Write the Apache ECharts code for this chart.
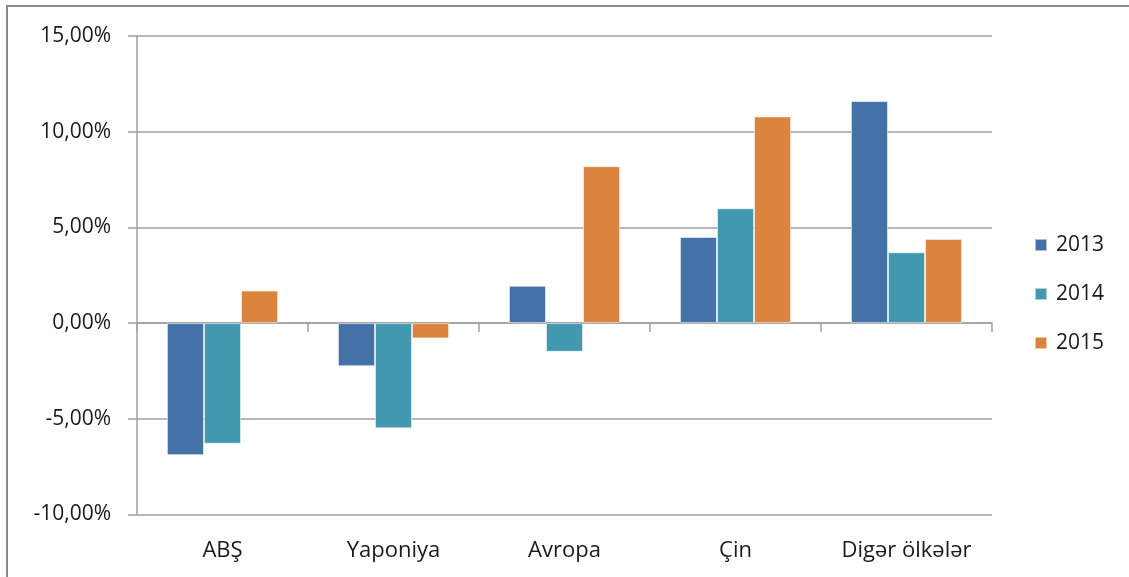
<!DOCTYPE html>
<html>
<head>
<meta charset="utf-8">
<script src="https://cdn.jsdelivr.net/npm/echarts@6/dist/echarts.min.js"></script>
<style>
html,body{margin:0;padding:0;background:#fff;}
#c{width:1129px;height:577px;}
</style>
</head>
<body>
<div id="c"></div>
<script>
var categories = ['ABŞ', 'Yaponiya', 'Avropa', 'Çin', 'Digər ölkələr'];
var seriesNames = ['2013', '2014', '2015'];
var values2013 = [-6.9, -2.25, 1.95, 4.5, 11.6];
var values2014 = [-6.3, -5.5, -1.5, 6.0, 3.7];
var values2015 = [1.7, -0.8, 8.2, 10.8, 4.4];
var yTicks = { min: -10, max: 15, interval: 5 };
var colors = ['#4472A8', '#4198AF', '#DB843D'];

var chart = echarts.init(document.getElementById('c'), null, {renderer: 'canvas'});
var font = '"Open Sans", Lato, "Noto Sans", sans-serif';
var allValues = [values2013, values2014, values2015];

chart.setOption({
  animation: false,
  color: colors,
  graphic: [{
    type: 'rect',
    shape: {x: 7, y: 6, width: 1200, height: 700},
    style: {fill: 'none', stroke: '#8a8a8a', lineWidth: 2},
    silent: true
  }],
  grid: {left: 137, right: 137, top: 36, bottom: 62.5},
  legend: {
    orient: 'vertical',
    left: 1034,
    top: 234,
    padding: 0,
    itemWidth: 12,
    itemHeight: 12,
    itemGap: 27,
    icon: 'rect',
    textStyle: {fontFamily: font, fontSize: 21, lineHeight: 22, color: '#1a1a1a', padding: [0, 0, 0, 4]},
    data: seriesNames
  },
  xAxis: [{
    type: 'category',
    data: categories,
    boundaryGap: true,
    axisLine: {onZero: true, lineStyle: {color: '#a0a0a0', width: 1.5}},
    axisTick: {show: true, length: 9, lineStyle: {color: '#a0a0a0', width: 1.5}},
    axisLabel: {show: false},
    splitLine: {show: false}
  }, {
    type: 'category',
    data: categories,
    position: 'bottom',
    axisLine: {show: false, onZero: false},
    axisTick: {show: false},
    axisLabel: {show: true, margin: 25, fontFamily: font, fontSize: 22, color: '#1a1a1a'},
    splitLine: {show: false}
  }],
  yAxis: {
    type: 'value',
    min: yTicks.min,
    max: yTicks.max,
    interval: yTicks.interval,
    axisLine: {show: true, lineStyle: {color: '#a0a0a0', width: 1.5}},
    axisTick: {show: true, length: 9, lineStyle: {color: '#a0a0a0', width: 1.5}},
    axisLabel: {
      margin: 26, fontFamily: font, fontSize: 21, color: '#1a1a1a',
      formatter: function (v) { return v.toFixed(2).replace('.', ',') + '%'; }
    },
    splitLine: {show: true, lineStyle: {color: '#a0a0a0', width: 1.5}}
  },
  series: seriesNames.map(function (n, i) {
    return {
      name: n,
      type: 'bar',
      xAxisIndex: 0,
      data: allValues[i],
      barGap: '0%',
      barCategoryGap: '35%',
      itemStyle: {borderColor: 'rgba(255,255,255,0.55)', borderWidth: 1}
    };
  })
});
</script>
</body>
</html>
